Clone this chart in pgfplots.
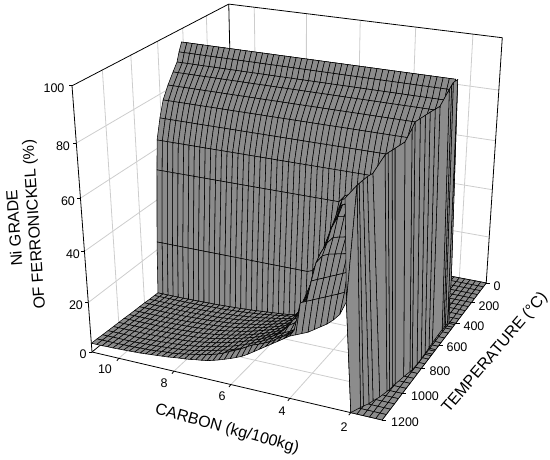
\documentclass[border=0pt]{standalone}
\usepackage{fontspec}
\setmainfont{Liberation Sans}
\usepackage{pgfplots}
\pgfplotsset{compat=1.18}
\definecolor{gridg}{RGB}{205,205,205}
% perspective map: (C,T,z) -> picture coordinates
\newcommand\proj[3]{%
 \pgfmathsetmacro\uu{(11-#1)/10}\pgfmathsetmacro\vv{(1200-#2)/1200}\pgfmathsetmacro\ww{#3/100}%
 \pgfmathsetmacro\WW{1-.0814*\uu+.184*\vv-.0876*\ww}%
 \pgfmathsetmacro\PX{(92+259*\uu+185.1*\vv-26.3*\ww)/\WW}%
 \pgfmathsetmacro\PY{460-(352+33.8*\uu-73.8*\vv-273.7*\ww)/\WW}}
\gdef\dat{}
\newcommand\R[2]{\def\curT{#1}\edef\lst{#2}\foreach \zz [count=\ci from 0] in \lst {%
  \pgfmathsetmacro\CC{11-0.2*\ci}\proj{\CC}{\curT}{\zz}\xdef\dat{\dat(\PX,\PY,0)}}}
\newcommand\Rc[2]{\def\curT{#1}\def\curZ{#2}\foreach\ci in {0,...,50}{%
  \pgfmathsetmacro\CC{11-0.2*\ci}\ifnum\ci<49\proj{\CC}{\curT}{\curZ}\else\proj{\CC}{\curT}{0}\fi\xdef\dat{\dat(\PX,\PY,0)}}}
\gdef\wal{}
\newcommand\W[3]{\proj{#2}{#1}{#3}\xdef\wal{\wal(\PX,\PY,0)}}
\newcommand\WR[3]{\W{#1}{#2}{#3}\W{#1}{#2}{#3}}
\newcommand\WB[2]{\W{#1}{#2}{0}}
\def\zeros{0,0,0,0,0,0,0,0,0,0,0,0,0,0,0,0,0,0,0,0,0,0,0,0,0,0,0,0,0,0,0,0,0,0,0,0,0,0,0,0,0,0,0,0,0,0,0,0,0,0,0}
% rows of the surface, back to front: temperature, then grade at carbon 11, 10.8, ... 1
\R{0}{\zeros}\R{40}{\zeros}\R{80}{\zeros}\R{120}{\zeros}\R{160}{\zeros}\R{200}{\zeros}
\R{240}{\zeros}\R{280}{\zeros}\R{320}{\zeros}\R{360}{\zeros}\R{400}{\zeros}
\Rc{413}{95}\Rc{437}{91.8}\Rc{456}{88.4}\Rc{491}{85.5}\Rc{535}{81.65}\Rc{578}{77.1}\Rc{609}{71}\Rc{639}{63.3}
\R{651}{51.8,51.8,51.8,51.8,51.8,51.8,51.8,51.8,51.8,51.8,51.8,51.8,51.8,51.8,51.8,51.8,51.8,51.8,51.8,51.8,51.8,51.8,51.8,51.8,51.8,51.8,51.8,51.8,51.8,51.8,51.8,51.8,51.8,51.8,54.5,55.5,56.5,57.5,58.5,59.5,60.5,61.5,62.5,63.5,64.5,65.5,66.5,67.5,0,0,0}
\R{678}{23.2,23.2,23.2,23.2,23.2,23.2,23.2,23.2,23.2,23.2,23.2,23.2,23.2,23.2,23.2,23.2,23.2,23.2,23.2,23.2,23.2,23.2,23.2,23.2,23.2,23.2,23.2,23.2,23.2,24,28.5,34.5,41,47.5,54,55,56,57,58,59,60,61,62,63,64,65,66,67,0,0,0}
\R{691}{2,2,2,2,2,2,2.1,2.1,2.2,2.2,2.3,2.3,2.4,2.5,2.6,2.7,2.8,3,3.1,3.3,3.5,3.7,3.9,4.1,4.3,4.6,5,6.5,10,17,24,31,38,45,52,53.5,54.5,55.5,56.5,57.5,58.5,59.5,60.5,61.5,62.5,63.5,64.5,65.5,0,0,0}
\R{720}{2.1,2.1,2.1,2.1,2.1,2.1,2.1,2.1,2.2,2.2,2.3,2.4,2.5,2.5,2.6,2.8,2.9,3.1,3.3,3.5,3.7,4,4.3,4.6,5,5.3,5.6,6.6,9.6,15.7,22.7,29.8,35.8,41.8,47.9,52.9,53.9,54.9,55.9,56.9,57.9,58.9,59.9,60.9,61.9,62.9,63.9,64.9,0,0,0}
\R{760}{2.2,2.2,2.2,2.2,2.2,2.2,2.2,2.3,2.3,2.4,2.4,2.5,2.6,2.7,2.8,3,3.1,3.3,3.6,3.8,4.1,4.4,4.8,5.2,5.6,6,6.4,6.9,10.1,15.8,21.5,27.2,32.8,38.5,44.2,49.9,52,53,54,55,56,57,58,59,60,61,62,63,0,0,0}
\R{800}{2.4,2.4,2.4,2.4,2.4,2.4,2.4,2.4,2.5,2.5,2.6,2.7,2.8,2.9,3,3.2,3.4,3.6,3.9,4.2,4.5,4.9,5.3,5.7,6.2,6.7,7.3,7.8,8.6,13.4,18.7,24,29.4,34.7,40,45.3,50.6,51.6,52.6,53.6,54.6,55.6,56.6,57.6,58.6,59.6,60.6,61.6,0,0,0}
\R{840}{2.5,2.5,2.5,2.5,2.5,2.5,2.5,2.6,2.6,2.7,2.8,2.9,3,3.1,3.3,3.5,3.7,3.9,4.2,4.5,4.9,5.3,5.7,6.2,6.7,7.3,7.9,8.5,9.3,11.5,16.5,21.4,26.4,31.3,36.3,41.3,46.2,50,51,52,53,54,55,56,57,58,59,60,0,0,0}
\R{880}{2.6,2.6,2.6,2.6,2.6,2.6,2.6,2.7,2.7,2.8,2.9,3,3.2,3.3,3.5,3.7,3.9,4.2,4.5,4.8,5.2,5.7,6.1,6.7,7.2,7.9,8.5,9.2,10,10.9,14.5,19.2,23.8,28.4,33,37.7,42.3,46.9,49,50,51,52,53,54,55,56,57,58,0,0,0}
\R{920}{2.7,2.7,2.7,2.7,2.7,2.7,2.7,2.8,2.9,3,3.1,3.2,3.3,3.5,3.6,3.9,4.1,4.4,4.8,5.1,5.6,6,6.5,7.1,7.7,8.4,9.1,9.8,10.7,11.6,13.2,17.5,21.8,26,30.3,34.6,38.9,43.1,47.4,48.4,49.4,50.4,51.4,52.4,53.4,54.4,55.4,56.4,0,0,0}
\R{960}{2.9,2.9,2.9,2.9,2.9,2.9,2.9,2.9,3,3.1,3.2,3.3,3.5,3.6,3.8,4,4.3,4.6,5,5.4,5.8,6.3,6.9,7.4,8.1,8.8,9.6,10.4,11.3,12.2,14.5,17.5,19,21,23,30,42,52,59,64.2,65,66,67,68,69,70,71,0,0,0,0}
\R{1000}{3,3,3,3,3,3,3,3.1,3.2,3.3,3.4,3.5,3.6,3.8,4,4.2,4.5,4.8,5.2,5.7,6.2,6.7,7.3,7.9,8.6,9.3,10.1,11,11.9,12.9,14.5,17,18.5,20,22,28,40,50,57,61.5,62,62.5,63,64,65,66,67,0,0,0,0}
\R{1040}{3.1,3.1,3.1,3.1,3.1,3.1,3.1,3.2,3.3,3.4,3.5,3.6,3.8,3.9,4.1,4.4,4.7,5.1,5.5,5.9,6.5,7,7.6,8.3,9,9.8,10.6,11.5,12.6,13.6,15,16,17,18.5,19.5,27,43,49,53,55.5,56,56.5,57,58,59,60,0,0,0,0,0}
\R{1080}{3.2,3.2,3.2,3.2,3.2,3.2,3.2,3.3,3.4,3.5,3.6,3.8,3.9,4.1,4.3,4.6,4.9,5.3,5.7,6.2,6.7,7.3,7.9,8.5,9.3,10.1,11,12,13,14.2,15.2,16.5,17.5,19,20.3,30.4,37.6,47,50,51,51.5,52,52.5,53.5,55,56,0,0,0,0,0}
\R{1120}{3.35,3.35,3.35,3.35,3.35,3.35,3.35,3.5,3.6,3.7,3.8,4,4.15,4.3,4.55,4.8,5.1,5.5,6,6.5,7,7.6,8.3,8.8,9.6,10.4,11.2,12.1,13.2,14.2,15.6,16.5,17.5,19.5,21.4,23.5,32.6,42,43,44,45,46,47,48,50,0,0,0,0,0,0}
\R{1160}{3.5,3.5,3.5,3.5,3.5,3.6,3.6,3.7,3.8,3.9,4,4.2,4.5,4.6,4.8,5.1,5.5,5.9,6.4,6.8,7.4,7.9,8.6,9.5,10.6,11.6,12.7,14,15.2,16,17,18,19.5,21,22,24.5,35.2,36.2,37.2,38.2,39.2,40.2,41.2,42.3,60,0,0,0,0,0,0}
\R{1200}{3.6,3.6,3.6,3.7,3.7,3.8,3.9,4,4.1,4.2,4.4,4.6,4.8,5,5.2,5.5,5.8,6,6.3,6.7,7,7.4,8,8.7,9.5,10.3,11.2,12.2,13.5,15,16.5,18,19.5,21,22.5,24,25,26,27,28.5,30,31.5,33.5,36,41,0,0,0,0,0,0}
% the steep face at low carbon: temperature, carbon and grade at its crest, carbon at its foot
\W{36}{2.2}{0}\W{36}{2.2}{0}\W{36}{2.2}{0}
\WR{413}{1.33}{95}\WB{413}{1.25}
\WR{438}{1.40}{94.5}\WB{438}{1.25}
\WR{456}{1.40}{94}\WB{456}{1.25}
\WR{473}{1.42}{93}\WB{473}{1.26}
\WR{592}{1.36}{90.5}\WB{592}{1.25}
\WR{637}{1.38}{90.8}\WB{637}{1.23}
\WR{684}{1.40}{91.1}\WB{684}{1.22}
\WR{730}{1.41}{91.4}\WB{730}{1.21}
\WR{776}{1.43}{91.6}\WB{776}{1.21}
\WR{822}{1.45}{91.8}\WB{822}{1.23}
\WR{840}{1.48}{90}\WB{840}{1.25}
\WR{884}{1.55}{86.7}\WB{884}{1.32}
\WR{948}{1.65}{86.4}\WB{948}{1.40}
\WR{966}{1.68}{86.3}\WB{966}{1.42}
\WR{991}{1.72}{86.2}\WB{991}{1.44}
\WR{1010}{1.75}{86}\WB{1010}{1.47}
\WR{1057}{1.95}{81}\WB{1057}{1.55}
\WR{1092}{2.0}{81}\WB{1092}{1.65}
\WR{1116}{2.05}{80.5}\WB{1116}{1.70}
\WR{1140}{2.08}{80.2}\WB{1140}{1.80}
\W{1153}{2.45}{75}\W{1153}{2.10}{80}\WB{1153}{1.85}
\WR{1200}{2.2}{41}\WB{1200}{2.0}
\pgfplotsset{
 gsurf/.style={surf,shader=faceted,faceted color=black,line width=0.55pt,z buffer=none,mesh/check=false,mesh/ordering=x varies,line join=round},
 gridl/.style={gridg,line width=0.8pt,no marks,forget plot},
 framel/.style={black,line width=0.8pt,no marks,forget plot}}
% straight line between two points given in (carbon, temperature, grade)
\newcommand\LN[7]{\proj{#2}{#3}{#4}\let\ax\PX\let\ay\PY\proj{#5}{#6}{#7}%
 \edef\cmd{\noexpand\addplot3[#1] coordinates {(\ax,\ay,0)(\PX,\PY,0)};}\cmd}
% tick: a point and an offset in picture units
\newcommand\TK[5]{\proj{#1}{#2}{#3}\pgfmathsetmacro\bx{\PX+#4}\pgfmathsetmacro\by{\PY+#5}%
 \edef\cmd{\noexpand\addplot3[framel] coordinates {(\PX,\PY,0)(\bx,\by,0)};}\cmd}
\begin{document}
\begin{tikzpicture}
\begin{axis}[scale only axis,width=550pt,height=460pt,xmin=0,xmax=550,ymin=0,ymax=460,zmin=-1,zmax=1,
 view={0}{90},axis lines=none,clip=false,point meta min=-1,point meta max=1,
 colormap={gr}{rgb255=(140,140,140) rgb255=(140,140,140)},
 every node/.append style={inner sep=0pt}]
\foreach \cc in {10,8,6,4,2}{\LN{gridl}{\cc}{1200}{0}{\cc}{0}{0}\LN{gridl}{\cc}{0}{0}{\cc}{0}{100}}
\foreach \tt in {1000,800,600,400,200}{\LN{gridl}{11}{\tt}{0}{1}{\tt}{0}\LN{gridl}{11}{\tt}{0}{11}{\tt}{100}}
\foreach \gg in {20,40,60,80}{\LN{gridl}{11}{1200}{\gg}{11}{0}{\gg}\LN{gridl}{11}{0}{\gg}{1}{0}{\gg}}
\LN{framel}{11}{1200}{0}{11}{1200}{100}
\LN{framel}{11}{1200}{100}{11}{0}{100}
\LN{framel}{11}{0}{100}{1}{0}{100}
\LN{framel}{1}{0}{100}{1}{0}{0}
\LN{framel}{11}{0}{100}{11}{0}{0}
\LN{framel}{11}{1200}{0}{11}{0}{0}
\LN{framel}{11}{0}{0}{1}{0}{0}
\LN{framel}{11}{1200}{0}{1}{1200}{0}
\LN{framel}{1}{1200}{0}{1}{0}{0}
\edef\cmd{\noexpand\addplot3[gsurf,mesh/rows=35] coordinates {\dat};}\cmd
\edef\cmd{\noexpand\addplot3[gsurf,mesh/rows=23] coordinates {\wal};}\cmd
\foreach \gg in {0,20,40,60,80,100}{\TK{11}{1200}{\gg}{-3}{0}}
\foreach \cc in {10,8,6,4,2}{\TK{\cc}{1200}{0}{-2}{-2.5}}
\foreach \tt in {1200,1000,800,600,400,200,0}{\TK{1}{\tt}{0}{4}{0}}
\tikzset{tl/.style={font=\fontsize{12.5}{14}\selectfont},tt/.style={font=\fontsize{16}{18}\selectfont}}
\node[tl] at (axis cs:54,372,0) {100};
\node[tl] at (axis cs:63,314,0) {80};
\node[tl] at (axis cs:68,259,0) {60};
\node[tl] at (axis cs:73,206,0) {40};
\node[tl] at (axis cs:76,155,0) {20};
\node[tl] at (axis cs:83,106,0) {0};
\node[tl] at (axis cs:105,91,0) {10};
\node[tl] at (axis cs:164,77,0) {8};
\node[tl] at (axis cs:222,64,0) {6};
\node[tl] at (axis cs:282,49,0) {4};
\node[tl] at (axis cs:344,33,0) {2};
\node[tl] at (axis cs:497,174,0) {0};
\node[tl] at (axis cs:489,154,0) {200};
\node[tl] at (axis cs:474,134,0) {400};
\node[tl] at (axis cs:457,113,0) {600};
\node[tl] at (axis cs:440,89,0) {800};
\node[tl] at (axis cs:425,64,0) {1000};
\node[tl] at (axis cs:405,38,0) {1200};
\node[tt,rotate=94] at (axis cs:14,232,0) {Ni GRADE};
\node[tt,rotate=94] at (axis cs:35,235.5,0) {OF FERRONICKEL (\%)};
\node[tt,rotate=-15.5] at (axis cs:227,31,0) {CARBON (kg/100kg)};
\node[tt,rotate=49.5] at (axis cs:495,107,0) {TEMPERATURE (°C)};
\coordinate (bbsw) at (axis cs:0,0,0);
\coordinate (bbne) at (axis cs:550,460,0);
\end{axis}
\pgfresetboundingbox
\path[use as bounding box] (bbsw) rectangle (bbne);
\end{tikzpicture}
\end{document}
